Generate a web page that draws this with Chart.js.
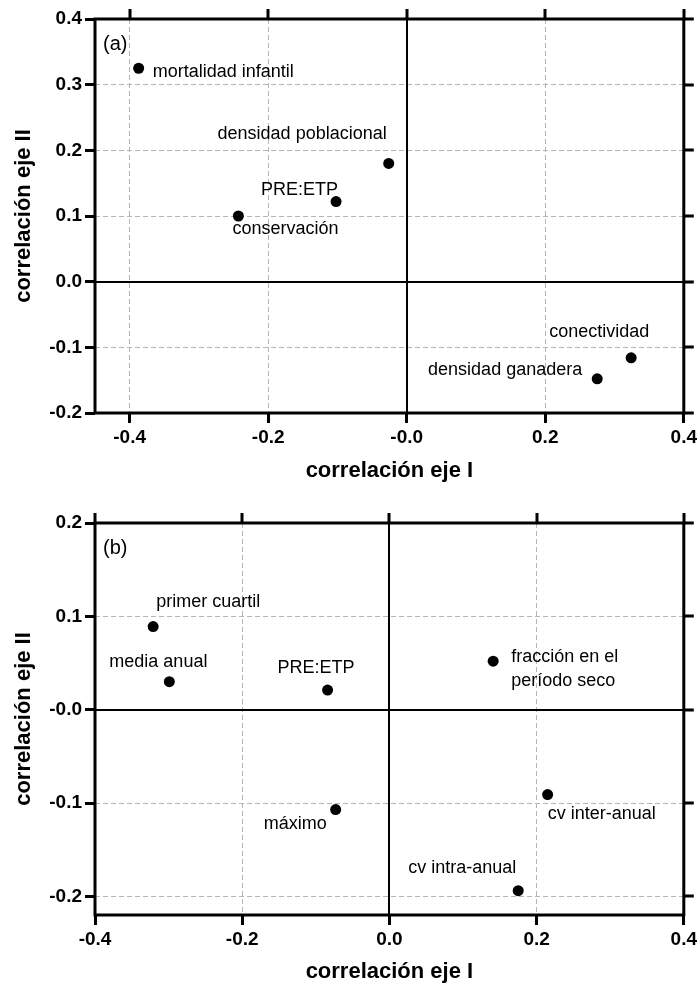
<!DOCTYPE html>
<html>
<head>
<meta charset="utf-8">
<script src="https://cdn.jsdelivr.net/npm/chart.js@4.4.1/dist/chart.umd.min.js"></script>
<style>
  html, body { margin: 0; padding: 0; background: #fff; }
  #wrap { position: relative; width: 700px; height: 985px; }
  canvas { display: block; }
</style>
</head>
<body>
<div id="wrap">
  <canvas id="chartA" width="700" height="490"></canvas>
  <canvas id="chartB" width="700" height="495"></canvas>
</div>
<script>
// Panel (a): variables socio-económicas
const panelACategories = ['mortalidad infantil', 'densidad poblacional', 'PRE:ETP', 'conservación', 'conectividad', 'densidad ganadera'];
const panelAEjeI = [-0.387, -0.026, -0.102, -0.243, 0.324, 0.275];
const panelAEjeII = [0.325, 0.180, 0.122, 0.100, -0.116, -0.148];
const panelAXTicks = ['-0.4', '-0.2', '-0.0', '0.2', '0.4'];
const panelAYTicks = ['-0.2', '-0.1', '0.0', '0.1', '0.2', '0.3', '0.4'];

// Panel (b): variables de precipitación
const panelBCategories = ['primer cuartil', 'media anual', 'PRE:ETP', ['fracción en el', 'período seco'], 'máximo', 'cv inter-anual', 'cv intra-anual'];
const panelBEjeI = [-0.321, -0.299, -0.084, 0.141, -0.073, 0.215, 0.175];
const panelBEjeII = [0.089, 0.030, 0.021, 0.052, -0.107, -0.091, -0.194];
const panelBXTicks = ['-0.4', '-0.2', '0.0', '0.2', '0.4'];
const panelBYTicks = ['-0.2', '-0.1', '-0.0', '0.1', '0.2'];

// posicion de las etiquetas respecto al punto (px)
const panelALabelPos = [
  { dx: 14, dy: 4, align: 'left' },
  { dx: -2, dy: -29, align: 'right' },
  { dx: 2, dy: -12, align: 'right' },
  { dx: -6, dy: 13, align: 'left' },
  { dx: -82, dy: -26, align: 'left' },
  { dx: -15, dy: -9, align: 'right' }
];
const panelBLabelPos = [
  { dx: 3, dy: -25, align: 'left' },
  { dx: -60, dy: -20, align: 'left' },
  { dx: -50, dy: -22, align: 'left' },
  { dx: 18, dy: -4, align: 'left' },
  { dx: -9, dy: 14, align: 'right' },
  { dx: 0, dy: 19, align: 'left' },
  { dx: -2, dy: -23, align: 'right' }
];

const FONT = '"Liberation Sans", Arial, Helvetica, sans-serif';

const decor = {
  id: 'decor',
  beforeDatasetsDraw(chart) {
    const { ctx, chartArea: a, scales: { x, y } } = chart;
    ctx.save();
    ctx.strokeStyle = '#000';
    ctx.lineWidth = 2;
    ctx.beginPath();
    const x0 = Math.round(x.getPixelForValue(0));
    const y0 = Math.round(y.getPixelForValue(0));
    ctx.moveTo(x0, a.top); ctx.lineTo(x0, a.bottom);
    ctx.moveTo(a.left, y0); ctx.lineTo(a.right, y0);
    ctx.stroke();
    ctx.restore();
  },
  afterDatasetsDraw(chart, args, opts) {
    const { ctx, chartArea: a, scales: { x, y } } = chart;
    ctx.save();
    // marco
    ctx.strokeStyle = '#000';
    ctx.lineWidth = 3;
    ctx.strokeRect(a.left, a.top, a.right - a.left, a.bottom - a.top);
    // marcas arriba y a la derecha
    ctx.beginPath();
    x.ticks.forEach(t => {
      const px = Math.round(x.getPixelForValue(t.value));
      ctx.moveTo(px, a.top); ctx.lineTo(px, a.top - 10);
    });
    y.ticks.forEach(t => {
      const py = Math.round(y.getPixelForValue(t.value));
      ctx.moveTo(a.right, py); ctx.lineTo(a.right + 10, py);
    });
    ctx.stroke();

    // (a) / (b)
    ctx.fillStyle = '#000';
    ctx.font = '20px ' + FONT;
    ctx.textAlign = 'left';
    ctx.textBaseline = 'middle';
    ctx.fillText(opts.tag, a.left + 8, a.top + 25);

    // etiquetas de los puntos
    ctx.font = '18px ' + FONT;
    const meta = chart.getDatasetMeta(0);
    meta.data.forEach((pt, i) => {
      const pos = opts.labelPos[i];
      const lines = [].concat(opts.names[i]);
      ctx.textAlign = pos.align;
      lines.forEach((ln, k) => {
        ctx.fillText(ln, pt.x + pos.dx, pt.y + pos.dy + k * 24);
      });
    });
    ctx.restore();
  }
};

function makePanel(canvasId, cfg) {
  return new Chart(document.getElementById(canvasId), {
    type: 'scatter',
    data: {
      datasets: [{
        data: cfg.ejeI.map((v, i) => ({ x: v, y: cfg.ejeII[i] })),
        pointRadius: 5.5,
        pointHoverRadius: 5.5,
        backgroundColor: '#000',
        borderColor: '#000',
        borderWidth: 0
      }]
    },
    options: {
      responsive: false,
      animation: false,
      events: [],
      layout: { padding: { top: cfg.padTop, right: 16, left: 0, bottom: 0 } },
      plugins: {
        legend: { display: false },
        tooltip: { enabled: false },
        decor: { tag: cfg.tag, names: cfg.names, labelPos: cfg.labelPos }
      },
      scales: {
        x: {
          type: 'linear',
          min: cfg.xMin,
          max: 0.4,
          afterFit: s => { s.height = cfg.xAxisH; },
          ticks: {
            stepSize: 0.2,
            includeBounds: false,
            autoSkip: false,
            maxRotation: 0,
            padding: 3,
            color: '#000',
            font: { family: FONT, size: 19, weight: 'bold' },
            callback: (v, i) => cfg.xTicks[i]
          },
          grid: { color: '#b5b5b5', lineWidth: 1, tickColor: '#000', tickWidth: 3, tickLength: 10 },
          border: { display: false, dash: [5, 3] },
          title: {
            display: true,
            text: 'correlación eje I',
            color: '#000',
            font: { family: FONT, size: 22, weight: 'bold' },
            padding: { top: 0, bottom: cfg.xTitlePad }
          }
        },
        y: {
          type: 'linear',
          min: cfg.yMin,
          max: cfg.yMax,
          afterFit: s => { s.width = 95; },
          ticks: {
            stepSize: 0.1,
            includeBounds: false,
            autoSkip: false,
            padding: 3,
            color: '#000',
            font: { family: FONT, size: 19, weight: 'bold' },
            callback: (v, i) => cfg.yTicks[i]
          },
          grid: { color: '#b5b5b5', lineWidth: 1, tickColor: '#000', tickWidth: 3, tickLength: 10 },
          border: { display: false, dash: [5, 3] },
          title: {
            display: true,
            text: 'correlación eje II',
            color: '#000',
            font: { family: FONT, size: 22, weight: 'bold' },
            padding: { top: 11, bottom: 0 }
          }
        }
      }
    },
    plugins: [decor]
  });
}

makePanel('chartA', {
  tag: '(a)',
  names: panelACategories,
  labelPos: panelALabelPos,
  ejeI: panelAEjeI,
  ejeII: panelAEjeII,
  xTicks: panelAXTicks,
  yTicks: panelAYTicks,
  xMin: -0.45,
  yMin: -0.2,
  yMax: 0.4,
  padTop: 19,
  xAxisH: 77,
  xTitlePad: 6
});

makePanel('chartB', {
  tag: '(b)',
  names: panelBCategories,
  labelPos: panelBLabelPos,
  ejeI: panelBEjeI,
  ejeII: panelBEjeII,
  xTicks: panelBXTicks,
  yTicks: panelBYTicks,
  xMin: -0.4,
  yMin: -0.22,
  yMax: 0.2,
  padTop: 33,
  xAxisH: 70,
  xTitlePad: 0
});
</script>
</body>
</html>
